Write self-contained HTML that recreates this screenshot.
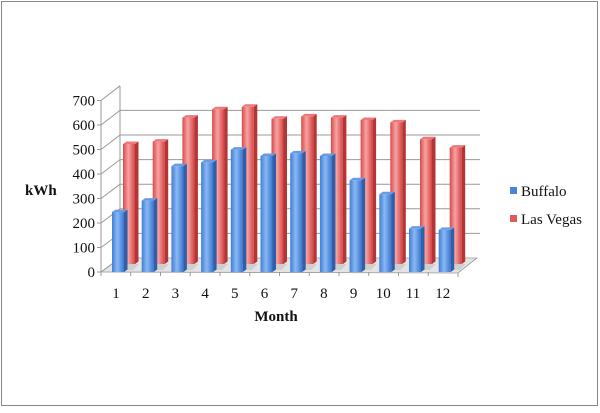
<!DOCTYPE html>
<html><head><meta charset="utf-8"><style>
body{margin:0;background:#fff}
svg text{font-family:"Liberation Serif",serif;fill:#111}
</style></head><body>
<svg width="600" height="408" viewBox="0 0 600 408" xmlns="http://www.w3.org/2000/svg">
<defs>
<linearGradient id="bf" x1="0" x2="1"><stop offset="0" stop-color="#3f7fd6"/><stop offset="0.45" stop-color="#8ab8f4"/><stop offset="1" stop-color="#3a78d0"/></linearGradient>
<linearGradient id="rf" x1="0" x2="1"><stop offset="0" stop-color="#d94a4a"/><stop offset="0.45" stop-color="#f7a3a3"/><stop offset="1" stop-color="#d44444"/></linearGradient>
</defs>
<rect x="1.5" y="1.5" width="596" height="404" fill="#fff" stroke="#888"/>
<polygon points="101,272 458,273 477,258 120,258" fill="#e4e4e4" stroke="#999" stroke-width="0.8"/>
<g stroke="#999" stroke-width="1" fill="none" id="grid"></g>
<g id="bars"></g>
<g id="labels" font-size="15"></g>
<text x="25" y="195" font-size="15" font-weight="bold">kWh</text>
<text x="276" y="321" font-size="15" font-weight="bold" text-anchor="middle">Month</text>
<rect x="510" y="187" width="7" height="7" fill="#4a84d8"/>
<text x="521" y="196" font-size="15">Buffalo</text>
<rect x="510" y="215" width="7" height="7" fill="#e05a5a"/>
<text x="521" y="224" font-size="15">Las Vegas</text>
</svg>
<script>
const ns="http://www.w3.org/2000/svg";
function el(p,t,a,txt){const e=document.createElementNS(ns,t);for(const k in a)e.setAttribute(k,a[k]);if(txt!==undefined)e.textContent=txt;document.getElementById(p).appendChild(e);return e;}
for(let i=0;i<=7;i++){
 const yf=272-i*24.5, yb=258-i*24.6;
 if(i>0&&i<7) el("grid","line",{x1:120,y1:yb,x2:480,y2:yb});
 el("grid","line",{x1:101,y1:yf,x2:120,y2:yb});
 el("grid","line",{x1:97,y1:yf,x2:101,y2:yf});
 el("labels","text",{x:95,y:yf+5,"text-anchor":"end"},String(i*100));
}
el("grid","line",{x1:101,y1:272,x2:101,y2:100});
el("grid","line",{x1:120,y1:258,x2:120,y2:86});
const B=[235,280,415,430,480,455,465,455,360,305,170,165];
const L=[500,510,610,645,655,605,615,610,600,590,520,485];
function bar(x,base,h,fill,side,top){
 const y=base-h,w=12,d=3.5;
 el("bars","polygon",{points:`${x+w},${y} ${x+w+d},${y-2.5} ${x+w+d},${base-2.5} ${x+w},${base}`,fill:side});
 el("bars","rect",{x:x,y:y,width:w,height:h,fill:fill});
 el("bars","polygon",{points:`${x},${y} ${x+d},${y-2.5} ${x+w+d},${y-2.5} ${x+w},${y}`,fill:top});
}
for(let i=0;i<12;i++){
 const xr=123+i*29.7;
 el("bars","polygon",{points:`${xr+2},264 ${xr+16},264 ${xr+10},270 ${xr-4},270`,fill:"#cfcfcf"});
 bar(xr,264,L[i]*0.24,"url(#rf)","#b53434","#e77");
}
for(let i=0;i<12;i++){
 const xb=112+i*29.7;
 bar(xb,272,B[i]*0.255,"url(#bf)","#2f5fa8","#6a9be0");
 el("grid","line",{x1:101+i*29.75,y1:272,x2:101+i*29.75,y2:276});
 el("labels","text",{x:116+i*29.7,y:298,"text-anchor":"middle"},String(i+1));
}
el("grid","line",{x1:458,y1:273,x2:458,y2:277});
</script>
</body></html>
